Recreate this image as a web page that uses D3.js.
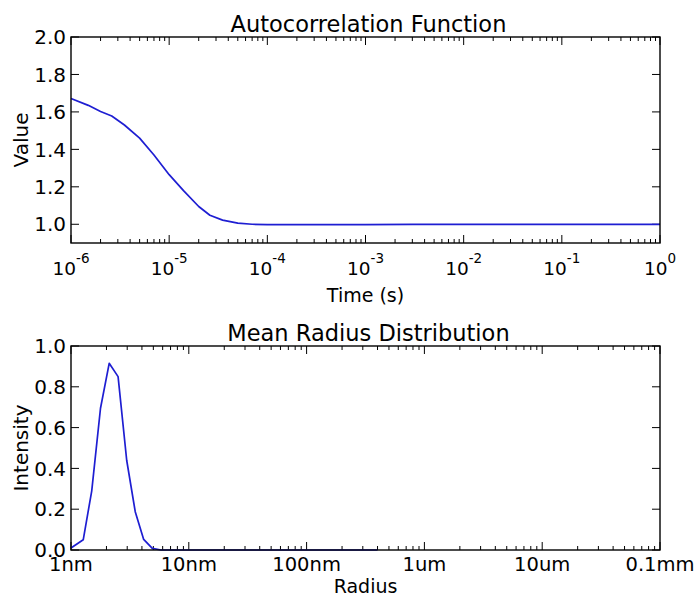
<!DOCTYPE html>
<html><head><meta charset="utf-8">
<script src="https://cdn.jsdelivr.net/npm/d3@7"></script>
<style>
body{margin:0;background:#fff;}
text{font-family:"DejaVu Sans",sans-serif;fill:#000;}
</style></head>
<body><svg id="c" width="697" height="599"></svg>
<script>
// ---- Data ----
const acfTime = [1e-6,1.5e-6,2e-6,2.6e-6,3.5e-6,5e-6,7e-6,1e-5,1.4e-5,2e-5,2.6e-5,3.5e-5,5e-5,7e-5,1e-4,2e-4,5e-4,1e-3,3e-3,1e-2,3e-2,1e-1,3e-1,1];
const acfValue = [1.672,1.635,1.602,1.578,1.530,1.460,1.370,1.265,1.180,1.095,1.048,1.022,1.006,1.000,0.998,0.998,0.998,0.998,0.999,0.999,0.999,0.999,0.999,0.999];
const radiusNm = [1.0,1.27,1.5,1.78,2.11,2.51,2.97,3.51,4.14,4.9,5.82,6.9,10,20,50,100,200,400];
const intensity = [0.01,0.05,0.29,0.695,0.915,0.85,0.44,0.188,0.052,0.008,0.0,0.0,0.0,0.0,0.0,0.0,0.0,0.0];
const timeTicks = [-6,-5,-4,-3,-2,-1,0];
const radiusTickValues = [1,10,100,1000,10000,100000];
const radiusTickLabels = ["1nm","10nm","100nm","1um","10um","0.1mm"];
const valueTicks = [1.0,1.2,1.4,1.6,1.8,2.0];
const intensityTicks = [0.0,0.2,0.4,0.6,0.8,1.0];

const svg = d3.select("#c");
const L = 71, R = 660;
const lineColor = "#1e1ed2";

function minorTicks(lo, hi){
  const out=[];
  for(let e=lo;e<hi;e++) for(let k=2;k<=9;k++) out.push(k*Math.pow(10,e));
  return out;
}

function panel(opt){
  const g = svg.append("g");
  const x = d3.scaleLog().domain(opt.xDomain).range([L,R]);
  const y = d3.scaleLinear().domain(opt.yDomain).range([opt.bottom,opt.top]);
  const maj=8, mnr=4;
  const xMaj = opt.xMajor, xMin = minorTicks(Math.log10(opt.xDomain[0]), Math.log10(opt.xDomain[1]));
  const tk = g.append("g").attr("stroke","#000").attr("stroke-width",1);
  xMaj.forEach(v=>{
    tk.append("line").attr("x1",x(v)).attr("x2",x(v)).attr("y1",opt.bottom).attr("y2",opt.bottom-maj);
    tk.append("line").attr("x1",x(v)).attr("x2",x(v)).attr("y1",opt.top).attr("y2",opt.top+maj);
  });
  xMin.forEach(v=>{
    tk.append("line").attr("x1",x(v)).attr("x2",x(v)).attr("y1",opt.bottom).attr("y2",opt.bottom-mnr);
    tk.append("line").attr("x1",x(v)).attr("x2",x(v)).attr("y1",opt.top).attr("y2",opt.top+mnr);
  });
  opt.yTicks.forEach(v=>{
    tk.append("line").attr("x1",L).attr("x2",L+maj).attr("y1",y(v)).attr("y2",y(v));
    tk.append("line").attr("x1",R).attr("x2",R-maj).attr("y1",y(v)).attr("y2",y(v));
  });
  const line = d3.line().x(d=>x(d[0])).y(d=>y(d[1]));
  g.append("path").datum(opt.xs.map((v,i)=>[v,opt.ys[i]]))
    .attr("d",line).attr("fill","none").attr("stroke",lineColor).attr("stroke-width",1.7)
    .attr("stroke-linejoin","round");
  g.append("rect").attr("x",L).attr("y",opt.top).attr("width",R-L).attr("height",opt.bottom-opt.top)
    .attr("fill","none").attr("stroke","#000").attr("stroke-width",1.4);
  opt.yTicks.forEach(v=>{
    g.append("text").attr("x",L-5).attr("y",y(v)).attr("dy","0.36em").attr("text-anchor","end")
      .attr("font-size",20).text(v.toFixed(1));
  });
  opt.xLabel(g,x);
  g.append("text").attr("x",(L+R)/2 + 3).attr("y",opt.top-5).attr("text-anchor","middle").attr("font-size",22.5).text(opt.title);
  g.append("text").attr("x",(L+R)/2).attr("y",opt.xTitleY).attr("text-anchor","middle").attr("font-size",19).text(opt.xTitle);
  g.append("text").attr("transform",`translate(28,${(opt.top+opt.bottom)/2}) rotate(-90)`)
    .attr("text-anchor","middle").attr("font-size",20).text(opt.yTitle);
}

panel({
  top:37,bottom:243,xDomain:[1e-6,1],yDomain:[0.9,2.0],
  xMajor:timeTicks.map(e=>Math.pow(10,e)),yTicks:valueTicks,
  xs:acfTime,ys:acfValue,title:"Autocorrelation Function",xTitle:"Time (s)",yTitle:"Value",xTitleY:302,
  xLabel:(g,x)=>{
    timeTicks.forEach(e=>{
      const t=g.append("text").attr("x",x(Math.pow(10,e))).attr("y",275).attr("text-anchor","middle").attr("font-size",18.5);
      t.append("tspan").text("10");
      t.append("tspan").attr("dy",-12).attr("font-size",13.5).text(String(e));
    });
  }
});

panel({
  top:346,bottom:550,xDomain:[1,1e5],yDomain:[0,1],
  xMajor:radiusTickValues,yTicks:intensityTicks,
  xs:radiusNm,ys:intensity,title:"Mean Radius Distribution",xTitle:"Radius",yTitle:"Intensity",xTitleY:593,
  xLabel:(g,x)=>{
    radiusTickValues.forEach((v,i)=>{
      g.append("text").attr("x",x(v)).attr("y",571).attr("text-anchor","middle").attr("font-size",19.5).text(radiusTickLabels[i]);
    });
  }
});
</script></body></html>
